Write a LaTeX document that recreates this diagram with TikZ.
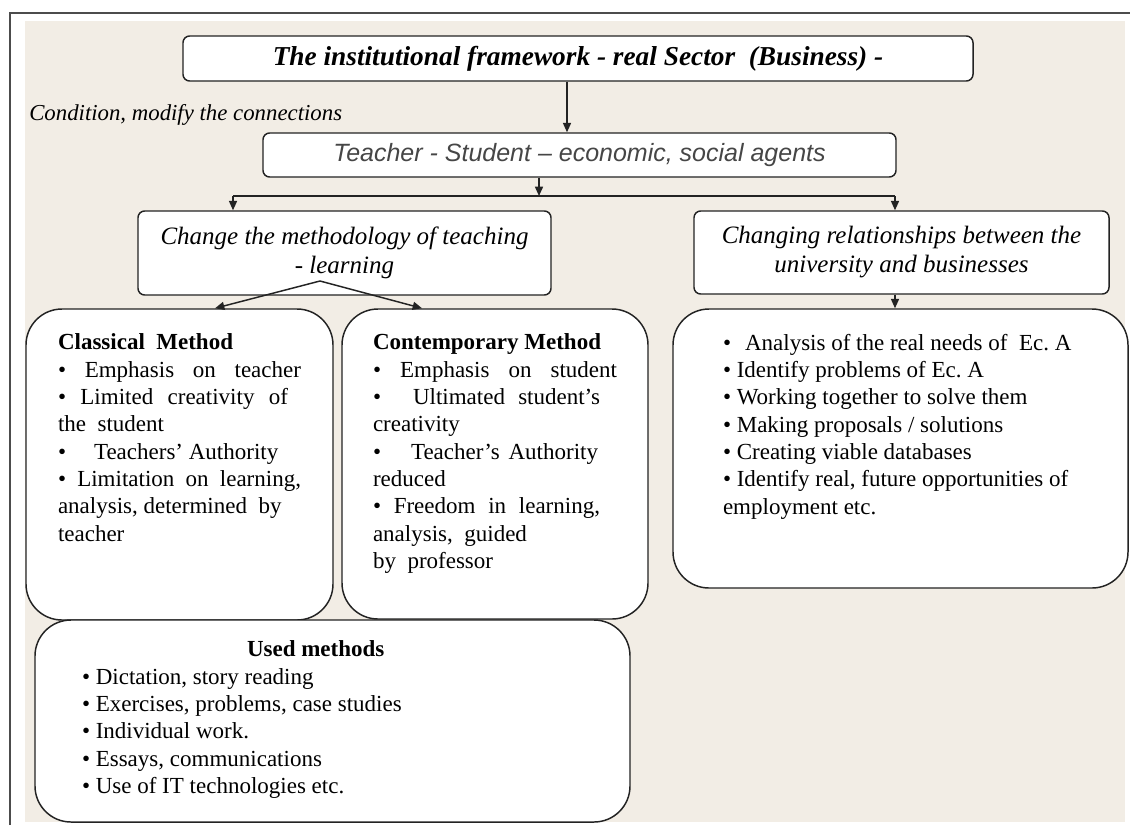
\documentclass[tikz,border=0pt]{standalone}
\usepackage{fontspec}
\setmainfont{Liberation Serif}
\newfontfamily\arialfont{Liberation Sans}
\usepackage{tikz}
\usetikzlibrary{arrows.meta}
\frenchspacing

\definecolor{paper}{RGB}{242,237,229}
\definecolor{edge}{RGB}{35,35,35}
\definecolor{agents}{RGB}{70,70,70}
\newcommand\fillline[1]{\makebox[\linewidth][s]{#1}}

\begin{document}
\begin{tikzpicture}[%
x={(0.75pt,0pt)},
y={(0pt,-0.75pt)},
box/.style={draw=edge, line width=1.1pt, fill=white, rounded corners=5pt, inner sep=0pt},
bigbox/.style={draw=edge, line width=1.1pt, fill=white, rounded corners=27pt},
link/.style={draw=edge, line width=1.1pt},
body/.style={font=\fontsize{17.25pt}{20.5pt}\selectfont},
>={Triangle[length=7pt,width=6pt]},
]

\useasboundingbox (0,0) rectangle (1130,825);
\fill[paper] (25,21) rectangle (1125,822);
\draw[gray!60!black, line width=1.5pt] (10,825) -- (10,13) -- (1130,13);

%Kopf
\node[box, minimum width=592.5pt, minimum height=33.75pt,
      font=\fontsize{20.5pt}{24pt}\selectfont\bfseries\itshape] (frame) at (578,58.5)
      {The institutional framework - real Sector\ \ (Business) -};
\node[anchor=base west, inner sep=0pt, font=\fontsize{17.1pt}{20pt}\selectfont\itshape] (cond) at (29,120)
      {Condition, modify the connections};
\node[box, minimum width=474.75pt, minimum height=33pt, text=agents,
      font=\arialfont\fontsize{18.75pt}{22pt}\selectfont\itshape] (teacher) at (579.5,155)
      {Teacher - Student – economic, social agents};

%Mitte
\node[box, minimum width=309.75pt, minimum height=63pt, align=center,
      font=\fontsize{18.75pt}{21.75pt}\selectfont\itshape] (method) at (344.5,253)
      {Change the methodology of teaching\\- learning};
\node[box, minimum width=311.25pt, minimum height=62.25pt, align=center,
      font=\fontsize{18.75pt}{21.75pt}\selectfont\itshape] (relation) at (901.5,252.5)
      {Changing relationships between the\\university and businesses};

%Methoden
\node[bigbox, body, inner xsep=24pt, inner ysep=18.75pt] (classical) at (179.5,464.5)
      {\parbox[c][195.75pt][t]{182.25pt}{\raggedright
       \textbf{Classical\ \ Method}\\
       \fillline{• Emphasis on teacher}\\
       \makebox[172.5pt][s]{• Limited creativity of}\\
       the\ \ student\\
       •\hspace{21pt}Teachers’ Authority\\
       \fillline{• Limitation on learning,}\\
       analysis, determined\ \ by\\
       teacher}};
\node[bigbox, body, inner xsep=23.25pt, inner ysep=18.75pt] (contemporary) at (495,464)
      {\parbox[c][195pt][t]{183pt}{\raggedright
       \textbf{Contemporary Method}\\
       \fillline{• Emphasis on student}\\
       •\hspace{24pt}\makebox[140.25pt][s]{Ultimated student’s}\\
       creativity\\
       •\hspace{22.5pt}\makebox[140.25pt][s]{Teacher’s Authority}\\
       reduced\\
       \makebox[170.25pt][s]{• Freedom in learning,}\\
       analysis,\ \ guided\\
       by\ \ professor}};
\node[bigbox, body, inner xsep=37.5pt, inner ysep=18.75pt] (needs) at (900.5,448.5)
      {\parbox[c][171.75pt][t]{266.25pt}{\raggedright
       •\hspace{10.5pt}Analysis of the real needs of\ \ Ec. A\\
       • Identify problems of Ec. A\\
       • Working together to solve them\\
       • Making proposals / solutions\\
       • Creating viable databases\\
       • Identify real, future opportunities of\\
       employment etc.}};
\node[bigbox, body, inner xsep=35.25pt, inner ysep=15.75pt] (used) at (332.5,721)
      {\parbox[c][120pt][t]{375.75pt}{\raggedright
       \hspace*{123.75pt}\textbf{Used methods}\\
       • Dictation, story reading\\
       • Exercises, problems, case studies\\
       • Individual work.\\
       • Essays, communications\\
       • Use of IT technologies etc.}};

%Pfeile
\coordinate (topx) at (567,0);
\coordinate (split) at (539,196);
\coordinate (busL) at (233,196);
\coordinate (busR) at (895,196);
\coordinate (fork) at (320,281);
\coordinate (tipL) at (215,0);
\coordinate (tipR) at (422,0);

\draw[link,->] (frame.south -| topx) -- (teacher.north -| topx);
\draw[link,->] (teacher.south -| split) -- (split);
\draw[link] (busL) -- (busR);
\draw[link,->] (busL) -- (method.north -| busL);
\draw[link,->] (busR) -- (relation.north -| busR);
\draw[link,->] (fork) -- (classical.north -| tipL);
\draw[link,->] (fork) -- (contemporary.north -| tipR);
\draw[link,->] (relation.south -| busR) -- (needs.north -| busR);

\end{tikzpicture}
\end{document}
